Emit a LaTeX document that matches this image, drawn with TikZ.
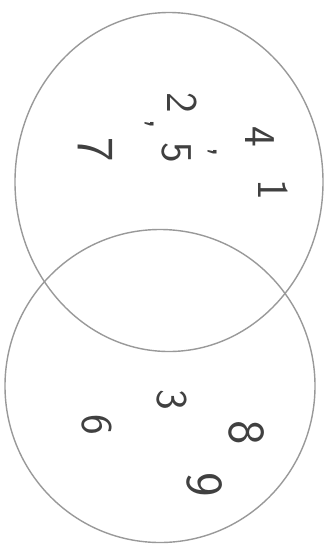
\documentclass[tikz,border=0pt]{standalone}
\usepackage{tikz}
\usetikzlibrary{shapes.geometric}

\begin{document}
\begin{tikzpicture}[x=1pt,y=-1pt,
    setline/.style={draw=black!40,line width=1.4pt,ellipse,inner sep=0pt},
    digit/.style={rotate=-90,text=black!75,inner sep=0pt,
      font=\sffamily\fontsize{44}{44}\selectfont},
    bigdigit/.style={digit,font=\sffamily\fontsize{52}{52}\selectfont}]
  \useasboundingbox (0,0) rectangle (327,547);
  % the two sets
  \node[setline,minimum width=308pt,minimum height=339pt] (top) at (169,182) {};
  \node[setline,minimum width=310pt,minimum height=313pt] (bottom) at (160,386) {};

  % upper set
  \node[digit] (a4) at (260,137) {4};
  \node[digit] (a1) at (273,190) {1};
  \node[digit] (a2) at (182,103) {2};
  \node[digit] (c1) at (150,124) {,};
  \node[digit] (a5) at (177,153) {5};
  \node[digit] (c2) at (213,152) {,};
  \node[bigdigit] (a7) at (95,150) {7};

  % lower set
  \node[digit] (b3) at (172,400) {3};
  \node[digit] (b6) at (97,425) {6};
  \node[bigdigit] (b8) at (247,433) {8};
  \node[bigdigit] (b9) at (205,485) {9};
\end{tikzpicture}
\end{document}
